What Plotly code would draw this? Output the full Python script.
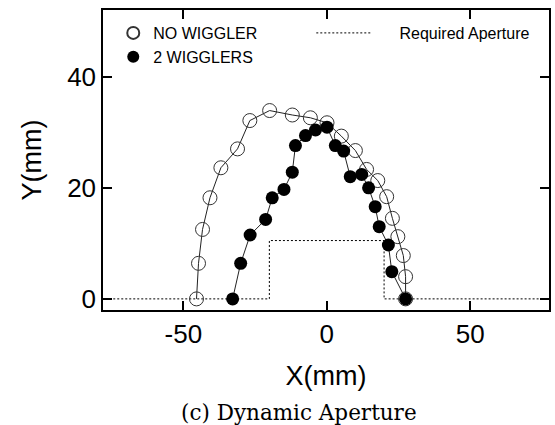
import plotly.graph_objects as go

# NO WIGGLER (open circles)
nw_x = [-45.4, -44.7, -43.3, -40.7, -36.9, -31.1, -26.8, -19.9, -12.0, -5.7, 0.1,
        5.1, 10.0, 13.9, 17.8, 20.9, 22.9, 24.8, 26.7, 27.5, 27.5]
nw_y = [0, 6.4, 12.5, 18.2, 23.6, 27.0, 32.1, 33.9, 33.1, 32.6, 31.7,
        29.3, 26.7, 23.3, 21.3, 18.4, 14.5, 11.2, 7.8, 4.0, 0]

# 2 WIGGLERS (filled circles)
w2_x = [-32.8, -30.0, -26.7, -21.3, -19.0, -14.9, -12.0, -10.9, -7.4, -3.9, 0.1,
        3.0, 5.9, 8.2, 12.2, 14.6, 16.9, 18.3, 21.5, 22.7, 27.5]
w2_y = [0, 6.4, 11.5, 14.3, 18.2, 19.7, 22.8, 27.6, 29.4, 30.4, 30.9,
        27.6, 26.6, 22.0, 22.4, 20.0, 16.6, 13.0, 9.7, 4.9, 0]

# Required aperture outline
ap_x = [-80, -20, -20, 20, 20, 80]
ap_y = [0, 0, 10.5, 10.5, 0, 0]

x_ticks = [-50, 0, 50]
x_ticktext = ["-50", "0", "50"]
y_ticks = [0, 20, 40]
y_ticktext = ["0", "20", "40"]

SANS = "Liberation Sans, Arial, sans-serif"

fig = go.Figure()
fig.add_trace(go.Scatter(
    x=ap_x, y=ap_y, mode="lines", name="\u00a0\u00a0\u00a0\u00a0\u00a0Required Aperture",
    legend="legend2", line=dict(color="black", width=1, dash="2px,2px")))
# connecting lines (no legend)
fig.add_trace(go.Scatter(
    x=nw_x, y=nw_y, mode="lines", showlegend=False, hoverinfo="skip",
    line=dict(color="#222222", width=1)))
fig.add_trace(go.Scatter(
    x=w2_x, y=w2_y, mode="lines", showlegend=False, hoverinfo="skip",
    line=dict(color="#222222", width=1)))
# markers
fig.add_trace(go.Scatter(
    x=nw_x, y=nw_y, mode="markers", name="NO WIGGLER",
    marker=dict(symbol="circle-open", size=14, color="#333333", line=dict(width=1))))
fig.add_trace(go.Scatter(
    x=w2_x, y=w2_y, mode="markers", name="2 WIGGLERS",
    marker=dict(symbol="circle", size=13, color="black")))

axis_common = dict(
    showgrid=False, zeroline=False, showline=True, linecolor="black", linewidth=1.5,
    mirror="allticks", ticks="inside", ticklen=9, tickwidth=2, tickcolor="black",
    tickfont=dict(family=SANS, size=26, color="black"),
)

fig.update_layout(
    width=555, height=425,
    margin=dict(l=103, r=4, t=10, b=115),
    paper_bgcolor="white", plot_bgcolor="white",
    showlegend=True,
    legend=dict(x=0.023, y=0.98, xanchor="left", yanchor="top",
                bgcolor="rgba(0,0,0,0)", font=dict(family=SANS, size=16, color="black"),
                traceorder="normal", itemsizing="constant"),
    legend2=dict(x=0.467, y=0.98, xanchor="left", yanchor="top", itemwidth=56,
                 bgcolor="rgba(0,0,0,0)", font=dict(family=SANS, size=16, color="black")),
    xaxis=dict(range=[-78, 77.5], tickvals=x_ticks, ticktext=x_ticktext,
               title=dict(text="X(mm)", font=dict(family=SANS, size=27, color="black"), standoff=18),
               **axis_common),
    yaxis=dict(range=[-2, 52], tickvals=y_ticks, ticktext=y_ticktext,
               title=dict(text="Y(mm)", font=dict(family=SANS, size=27, color="black"), standoff=18),
               **axis_common),
    annotations=[dict(text="(c) Dynamic Aperture", xref="paper", yref="paper",
                      x=0.44, y=-0.34, xanchor="center", yanchor="middle", showarrow=False,
                      font=dict(family="DejaVu Serif, serif", size=21.5, color="black"))],
)

fig.write_html("out.html")
